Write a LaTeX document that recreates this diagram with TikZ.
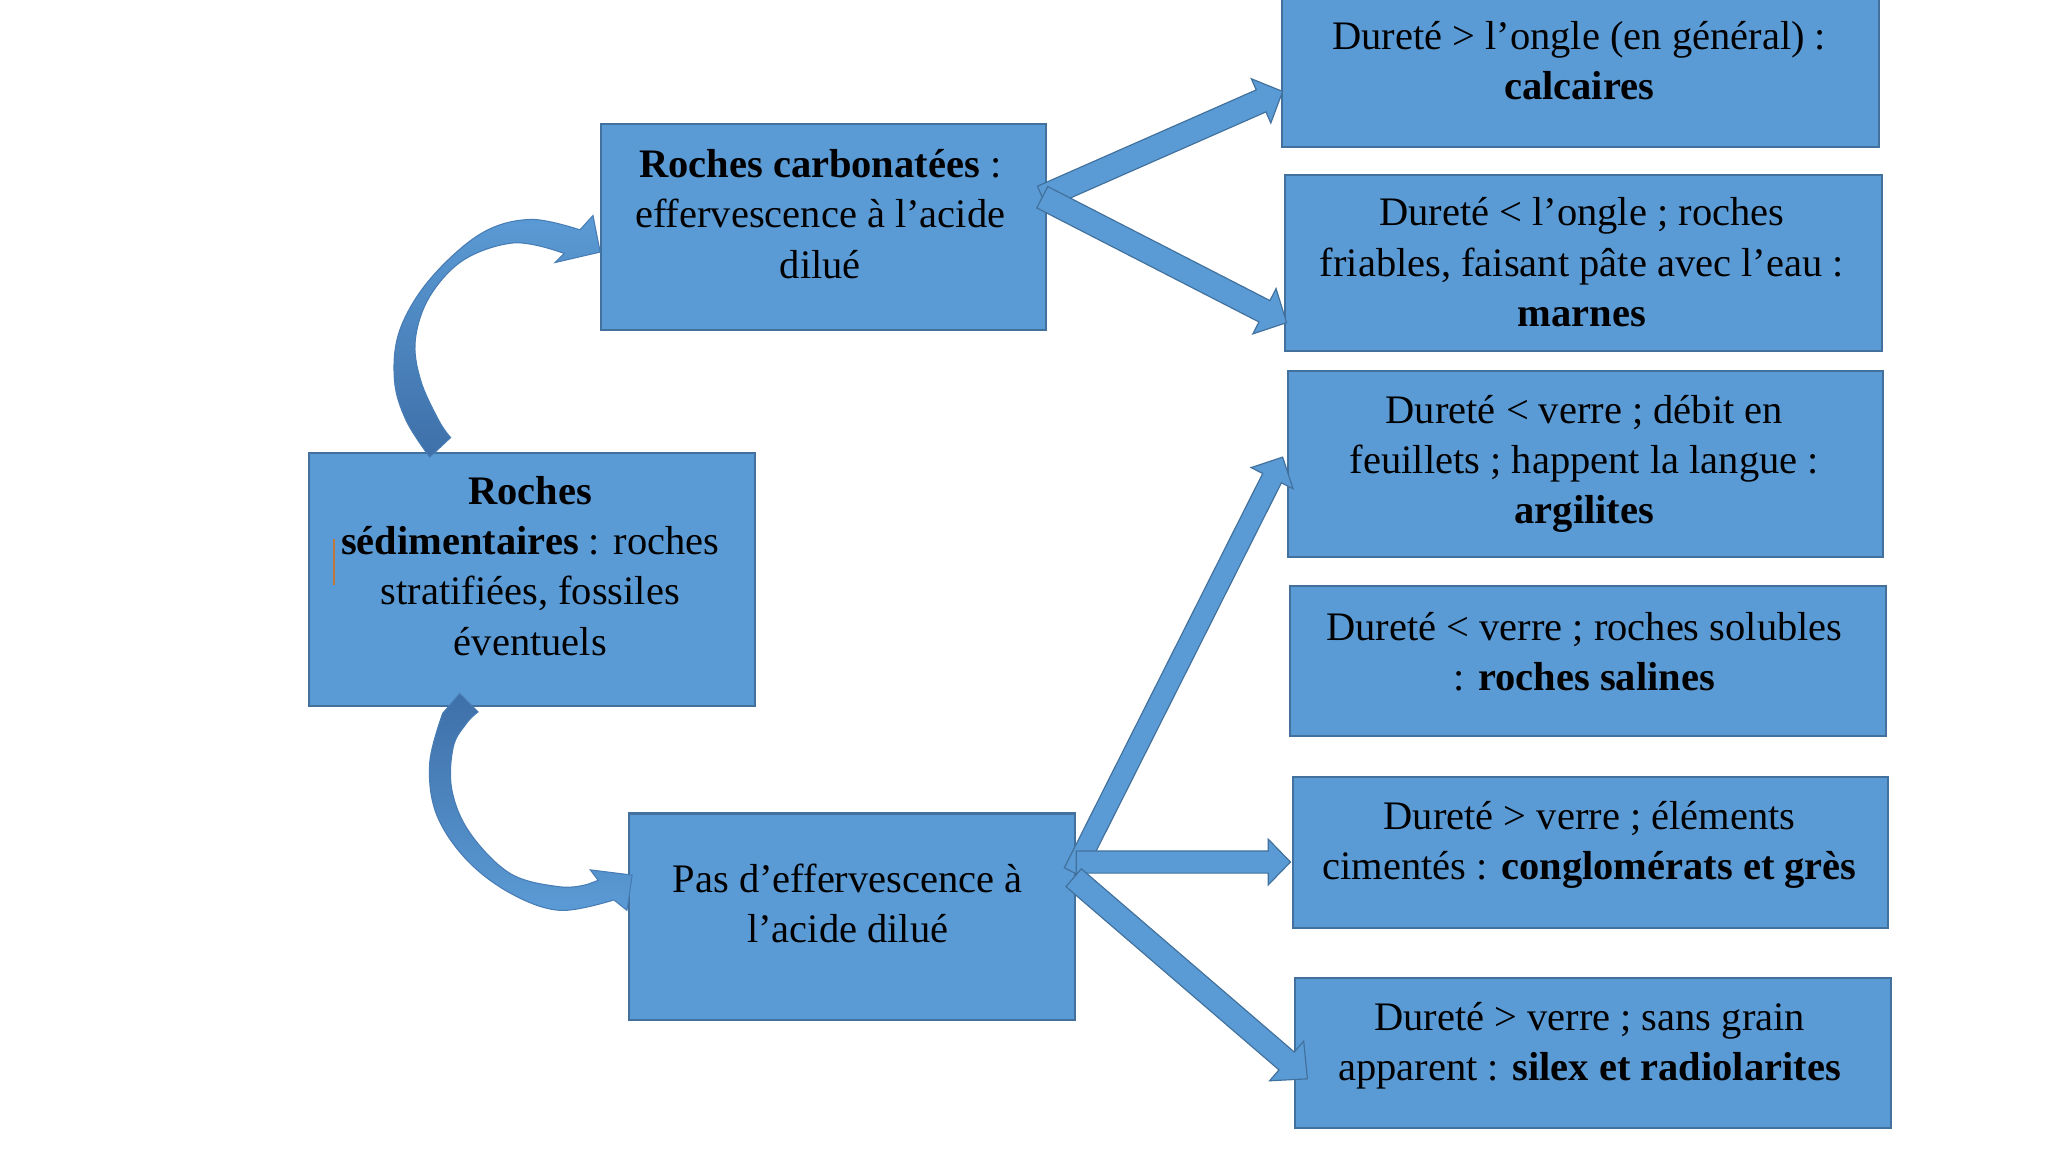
\documentclass[tikz,border=0pt]{standalone}
\usepackage{fontspec}
\setmainfont{Liberation Serif}
\usetikzlibrary{calc}
\definecolor{boxfill}{HTML}{5B9BD5}
\definecolor{boxline}{HTML}{41719C}
\definecolor{curvdark}{HTML}{3E6FA8}
\definecolor{cursorc}{HTML}{C0783A}
\newcommand\blockarrow[5]{%
  \path[barrow] let \p1=(#1), \p2=(#2),
    \n1={atan2(\y2-\y1,\x2-\x1)},
    \n2={veclen(\x2-\x1,\y2-\y1)-#5pt},
    \n3={#4pt-#3pt} in
    ($(\p1)+(\n1+90:#3pt)$) -- ++(\n1:\n2) -- ++(\n1+90:\n3) -- (\p2)
    -- ($(\p1)+(\n1:\n2)+(\n1-90:#4pt)$) -- ++(\n1+90:\n3)
    -- ($(\p1)+(\n1-90:#3pt)$) -- cycle;}
\newcommand\txtlines[1]{\begin{tabular}[t]{@{}c@{}}#1\end{tabular}}
\begin{document}
\begin{tikzpicture}[x=1pt,y=-1pt,
  box/.style={draw=boxline, fill=boxfill, line width=1.6pt, inner sep=0pt, anchor=north west},
  txt/.style={anchor=base, inner sep=0pt, text=black, font=\fontsize{31}{38.5}\selectfont},
  barrow/.style={fill=boxfill, draw=boxline, line width=0.9pt, line join=miter},
  curvarrow/.style={draw=curvdark!70!boxfill, line width=0.8pt}]
\fill[white] (0,0) rectangle (1568,882);
\useasboundingbox (0,0) rectangle (1568,882);

% boxes
\node[box, minimum width=341pt, minimum height=194pt] (A) at (236,346) {};
\node[box, minimum width=341pt, minimum height=158pt] (B) at (459,94) {};
\node[box, minimum width=341pt, minimum height=158pt] (C) at (481,622) {};
\node[box, minimum width=457pt, minimum height=114pt] (R1) at (981,-2) {};
\node[box, minimum width=457pt, minimum height=135pt] (R2) at (983,133) {};
\node[box, minimum width=456pt, minimum height=143pt] (R3) at (985,283) {};
\node[box, minimum width=456pt, minimum height=115pt] (R4) at (987,448) {};
\node[box, minimum width=456pt, minimum height=116pt] (R5) at (989,594) {};
\node[box, minimum width=456pt, minimum height=115pt] (R6) at (991,748) {};

% texts
\node[txt] (At) at (406,386) {\txtlines{\textbf{Roches}\\ \textbf{sédimentaires} : roches\\ stratifiées, fossiles\\ éventuels}};
\node[txt] (Bt) at (628,136) {\txtlines{\textbf{Roches carbonatées} :\\ effervescence à l’acide\\ dilué}};
\node[txt] (Ct) at (649,683) {\txtlines{Pas d’effervescence à\\ l’acide dilué}};
\node[txt] (R1t) at (1209,38) {\txtlines{Dureté > l’ongle (en général) :\\ \textbf{calcaires}}};
\node[txt] (R2t) at (1211,173) {\txtlines{Dureté < l’ongle ; roches\\ friables, faisant pâte avec l’eau :\\ \textbf{marnes}}};
\node[txt] (R3t) at (1213,324) {\txtlines{Dureté < verre ; débit en\\ feuillets ; happent la langue :\\ \textbf{argilites}}};
\node[txt] (R4t) at (1213,490) {\txtlines{Dureté < verre ; roches solubles\\ : \textbf{roches salines}}};
\node[txt] (R5t) at (1217,635) {\txtlines{Dureté > verre ; éléments\\ cimentés : \textbf{conglomérats et grès}}};
\node[txt] (R6t) at (1217,789) {\txtlines{Dureté > verre ; sans grain\\ apparent : \textbf{silex et radiolarites}}};

% cursor mark
\draw[cursorc, line width=1.5pt] (256,413) -- (256,448);

% straight block arrows
\coordinate (b0) at (798,151);
\coordinate (r1tip) at (982,70);
\coordinate (r2tip) at (985,247);
\blockarrow{b0}{r1tip}{9.2}{18.5}{18}
\blockarrow{b0}{r2tip}{9.2}{19.5}{19}
\coordinate (c0) at (822,668);
\coordinate (c1) at (824,660);
\coordinate (c2) at (822,672);
\coordinate (r3tip) at (982,350);
\coordinate (r5tip) at (988,660);
\coordinate (r6tip) at (1001,826);
\blockarrow{c0}{r3tip}{8}{18}{18}
\blockarrow{c1}{r5tip}{8.5}{17.5}{17}
\blockarrow{c2}{r6tip}{9}{20}{21}

% curved arrows
\path[curvarrow, top color=boxfill, bottom color=curvdark]
  plot[smooth, tension=0.6] coordinates {(329,350) (311,322) (302,291) (306,253) (329,214) (368,179) (406,168) (444,176)}
  -- (454,165) -- (459.5,193) -- (425,201) -- (432,194)
  -- plot[smooth, tension=0.6] coordinates {(426,192) (393,186) (355,199) (329,227) (318,260) (322,291) (336,322) (345,335)}
  -- cycle;
\path[curvarrow, top color=curvdark, bottom color=boxfill]
  (352,531)
  -- plot[smooth, tension=0.6] coordinates {(339,546) (329,584) (334,623) (357,658) (391,684) (429,697) (470,689)}
  -- (480,697) -- (484,670) -- (452,666) -- (458,674)
  -- plot[smooth, tension=0.6] coordinates {(450,677) (429,679) (391,669) (360,638) (346,605) (347,572) (357,554) (366,545)}
  -- cycle;
\end{tikzpicture}
\end{document}
